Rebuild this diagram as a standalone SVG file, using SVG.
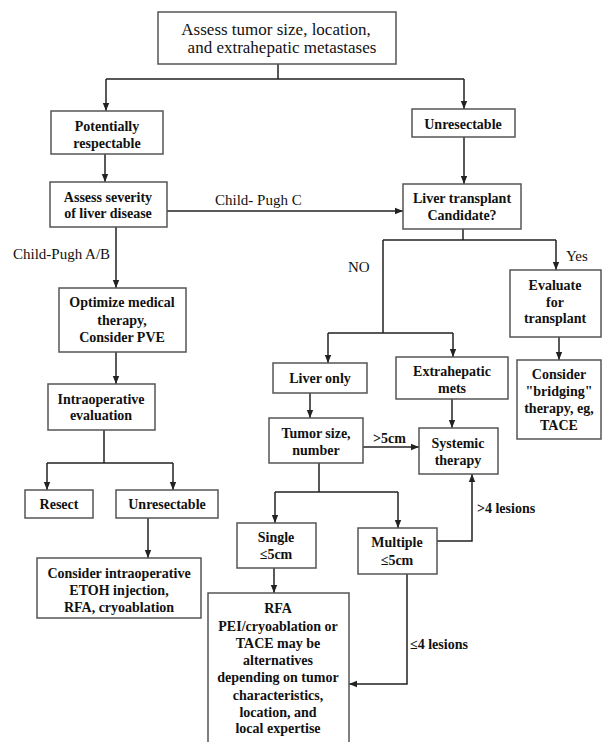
<svg xmlns="http://www.w3.org/2000/svg" width="602" height="742" viewBox="0 0 602 742">
<defs>
<marker id="ah" viewBox="0 0 10 10" refX="10" refY="5" markerWidth="8" markerHeight="8" orient="auto" markerUnits="userSpaceOnUse"><path d="M0,1 L10,5 L0,9 z" fill="#222"/></marker>
<style>
rect{fill:#fff;stroke:#555;stroke-width:1.5}
text{font-family:"Liberation Serif","Times New Roman",serif;fill:#111;text-anchor:middle}
.n{font-size:14px;font-weight:bold}
.t{font-size:17px}
.l{font-size:15px;text-anchor:start}
.lb{font-size:14px;font-weight:bold;text-anchor:start}
.c{fill:none;stroke:#222;stroke-width:1.5}
.a{fill:none;stroke:#222;stroke-width:1.5;marker-end:url(#ah)}
</style>
</defs>
<rect x="0" y="0" width="602" height="742" style="fill:#fff;stroke:none"/>
<g id="connectors">
<path class="c" d="M278,64 V79 M106,79 H464"/>
<path class="a" d="M106,79 V111"/>
<path class="a" d="M464,79 V109"/>
<path class="a" d="M105,154 V182"/>
<path class="a" d="M167,211 H403"/>
<path class="a" d="M464,137 V184"/>
<path class="a" d="M116,227 V288"/>
<path class="a" d="M116,352 V384"/>
<path class="c" d="M104,430 V463 M47,463 H173"/>
<path class="a" d="M47,463 V490"/>
<path class="a" d="M173,463 V490"/>
<path class="a" d="M148,518 V558"/>
<path class="c" d="M463,229 V240 M383,240 H556"/>
<path class="a" d="M556,240 V270"/>
<path class="c" d="M383,240 V333 M328,333 H453"/>
<path class="a" d="M328,333 V363"/>
<path class="a" d="M453,333 V357"/>
<path class="a" d="M559,337 V360"/>
<path class="a" d="M310,393 V418"/>
<path class="a" d="M452,399 V428"/>
<path class="a" d="M363,447 H419"/>
<path class="c" d="M319,463 V492 M275,492 H398"/>
<path class="a" d="M275,492 V523"/>
<path class="a" d="M398,492 V528"/>
<path class="a" d="M274,568 V593"/>
<path class="a" d="M437,541 H472 V474"/>
<path class="a" d="M407,574 V684 H349"/>
<text class="l" x="215" y="205">Child- Pugh C</text>
<text class="l" x="13" y="259">Child-Pugh A/B</text>
<text class="l" x="348" y="272">NO</text>
<text class="l" x="566" y="261">Yes</text>
<text class="lb" x="373" y="443">&gt;5cm</text>
<text class="lb" x="477" y="513">&gt;4 lesions</text>
<text class="lb" x="410" y="649">≤4 lesions</text>
</g>
<g id="top"><rect x="158" y="12" width="238" height="52"/><text class="t" x="276" y="35">Assess tumor size, location,</text><text class="t" x="282" y="53">and extrahepatic metastases</text></g>
<g id="potentially"><rect x="51" y="111" width="112" height="43"/><text class="n" x="107" y="131">Potentially</text><text class="n" x="107" y="148">respectable</text></g>
<g id="unresectable1"><rect x="412" y="109" width="103" height="28"/><text class="n" x="463" y="129">Unresectable</text></g>
<g id="assess"><rect x="50" y="182" width="117" height="45"/><text class="n" x="108" y="202">Assess severity</text><text class="n" x="108" y="218">of liver disease</text></g>
<g id="liver-transplant"><rect x="403" y="184" width="118" height="45"/><text class="n" x="462" y="203">Liver transplant</text><text class="n" x="462" y="220">Candidate?</text></g>
<g id="optimize"><rect x="59" y="288" width="127" height="64"/><text class="n" x="122" y="307">Optimize medical</text><text class="n" x="122" y="325">therapy,</text><text class="n" x="122" y="342">Consider PVE</text></g>
<g id="intraop"><rect x="48" y="384" width="107" height="46"/><text class="n" x="101" y="404">Intraoperative</text><text class="n" x="101" y="420">evaluation</text></g>
<g id="resect"><rect x="25" y="490" width="68" height="28"/><text class="n" x="59" y="509">Resect</text></g>
<g id="unresectable2"><rect x="116" y="490" width="102" height="28"/><text class="n" x="167" y="509">Unresectable</text></g>
<g id="consider-intraop"><rect x="37" y="558" width="164" height="60"/><text class="n" x="119" y="578">Consider intraoperative</text><text class="n" x="119" y="595">ETOH injection,</text><text class="n" x="119" y="612">RFA, cryoablation</text></g>
<g id="evaluate"><rect x="510" y="270" width="91" height="67"/><text class="n" x="555" y="290">Evaluate</text><text class="n" x="555" y="307">for</text><text class="n" x="555" y="323">transplant</text></g>
<g id="bridging"><rect x="517" y="360" width="84" height="79"/><text class="n" x="559" y="379">Consider</text><text class="n" x="559" y="396">"bridging"</text><text class="n" x="559" y="413">therapy, eg,</text><text class="n" x="559" y="430">TACE</text></g>
<g id="liver-only"><rect x="273" y="363" width="94" height="30"/><text class="n" x="320" y="383">Liver only</text></g>
<g id="extrahepatic"><rect x="396" y="357" width="112" height="42"/><text class="n" x="452" y="376">Extrahepatic</text><text class="n" x="452" y="393">mets</text></g>
<g id="tumor"><rect x="269" y="418" width="94" height="45"/><text class="n" x="316" y="438">Tumor size,</text><text class="n" x="316" y="455">number</text></g>
<g id="systemic"><rect x="419" y="428" width="79" height="46"/><text class="n" x="458" y="448">Systemic</text><text class="n" x="458" y="465">therapy</text></g>
<g id="single"><rect x="237" y="523" width="79" height="45"/><text class="n" x="276" y="542">Single</text><text class="n" x="276" y="559">≤5cm</text></g>
<g id="multiple"><rect x="358" y="528" width="79" height="46"/><text class="n" x="397" y="547">Multiple</text><text class="n" x="397" y="565">≤5cm</text></g>
<g id="rfa"><rect x="208" y="593" width="141" height="155"/><text class="n" x="278" y="613">RFA</text><text class="n" x="278" y="631">PEI/cryoablation or</text><text class="n" x="278" y="648">TACE may be</text><text class="n" x="278" y="665">alternatives</text><text class="n" x="278" y="682">depending on tumor</text><text class="n" x="278" y="700">characteristics,</text><text class="n" x="278" y="717">location, and</text><text class="n" x="278" y="733">local expertise</text></g>
</svg>
